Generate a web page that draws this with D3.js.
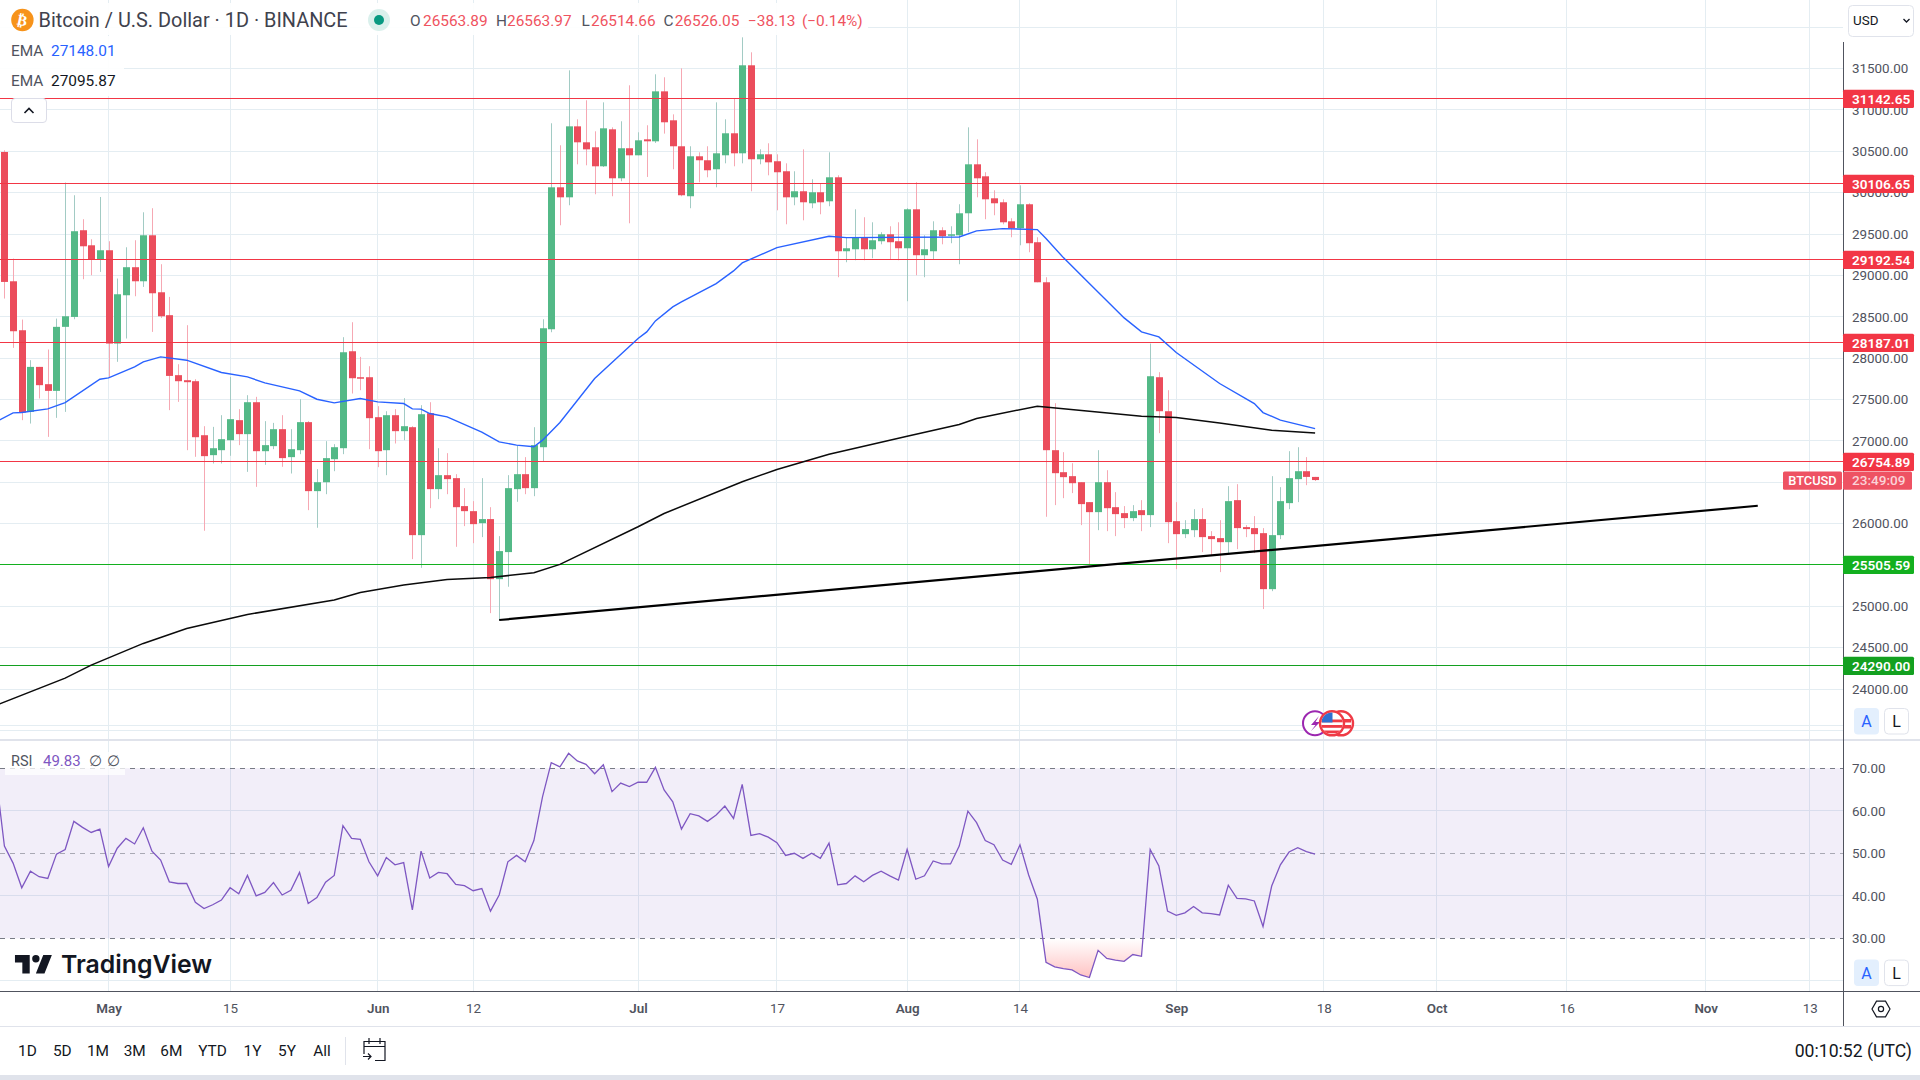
<!DOCTYPE html>
<html>
<head>
<meta charset="utf-8">
<script src="https://cdn.jsdelivr.net/npm/d3@7"></script>
<style>
  html, body { margin: 0; padding: 0; background: #fff; overflow: hidden; }
  svg { display: block; }
  text { font-family: Roboto, "Liberation Sans", sans-serif; }
</style>
</head>
<body>
<svg id="chart" width="1920" height="1080"></svg>
<script>
// Daily candles, first bar 2023-04-19
const firstDay = new Date(Date.UTC(2023, 3, 19));

const opens = [
  30492,28929,28337,27350,27894,27685,27604,28378,28498,29546,
  29364,29191,29304,28176,28760,29099,28929,29485,28796,28519,
  27794,27733,27721,27068,26827,26887,27008,27250,27081,27467,
  26875,26936,27141,26803,26887,27226,26392,26500,26778,26911,
  28083,27769,27769,27286,26887,27310,27117,27165,25860,27334,
  26416,26585,26549,26211,26150,26005,26054,25328,25655,26416,
  26597,26428,26923,28349,30065,29944,30802,30609,30549,30319,
  30766,30174,30537,30452,30645,30621,31225,30875,30561,29957,
  30440,30392,30283,30452,30718,30476,31540,30404,30464,30380,
  30259,29944,30017,29872,30005,29896,30186,29292,29316,29461,
  29316,29413,29497,29413,29328,29799,29244,29292,29546,29485,
  29485,29751,30343,30198,29932,29884,29654,29570,29860,29401,
  28917,26887,26621,26573,26500,26259,26138,26500,26198,26126,
  26066,26162,26102,27769,27358,26029,25872,25920,26054,25848,
  25824,25775,26283,25957,25945,25884,25207,25860,26247,26537,
  26633,26563.89
];
const highs = [
  30512,29203,28466,27975,27894,28104,28478,30122,29969,29679,
  29437,29948,29413,28962,29340,29425,29763,29812,29135,28740,
  27926,28398,27745,27177,27169,27310,27773,27383,27552,27532,
  27238,27217,27310,27141,27503,27238,26658,26996,26960,28253,
  28434,28015,27902,27419,27358,27383,27516,27177,27431,27467,
  26911,26851,26597,26428,26271,26549,26198,25848,26585,26948,
  26803,27165,28470,30839,30573,31479,30887,31117,30742,31092,
  30790,30863,31298,30730,30815,31431,31395,30947,31503,30561,
  30488,30561,31092,30887,31137,31878,31697,30524,30597,30464,
  30355,30259,30524,30162,30114,30488,30210,29461,29799,29703,
  29642,29522,29594,29642,29812,30126,29485,29654,29582,29594,
  29860,30790,30645,30247,30029,29920,29691,30089,29872,29461,
  28978,27455,26863,26730,26500,26259,26887,26645,26380,26211,
  26223,26283,28176,27830,27612,26259,26041,26174,26186,25908,
  26041,26452,26476,25981,26090,25945,26573,26440,26875,26923,
  26803,26563.97
];
const lows = [
  28720,28124,27250,27209,27512,27048,27278,27350,28470,28954,
  29002,29042,27773,27955,28237,28748,28861,28317,28486,27371,
  27471,26887,26807,25913,26726,26726,26819,26948,26625,26444,
  26710,26899,26686,26605,26839,26162,25949,26355,26633,26839,
  27572,27612,26899,26682,26585,26968,27008,25570,25465,26186,
  26295,26355,25719,25969,25763,25836,24917,24833,25236,26263,
  26355,26331,26754,28313,29606,29848,30343,30331,29981,30311,
  29957,30138,29630,30452,30190,30601,30714,30283,29957,29812,
  30126,30186,30065,30355,30319,30355,30017,30343,30210,29787,
  29618,29848,29666,29812,29739,29836,28978,29159,29183,29183,
  29207,29376,29191,29183,28688,29002,28978,29191,29376,29389,
  29135,29522,29944,29679,29727,29618,29461,29364,29280,28917,
  26082,26223,26307,26368,25981,25506,25920,25908,25848,25945,
  26029,25908,25957,27093,25763,25449,25824,25836,25655,25618,
  25413,25643,25691,25836,25643,24966,25183,25812,26174,26259,
  26464,26514.66
];
const closes = [
  28921,28325,27342,27894,27673,27604,28378,28506,29534,29352,
  29191,29304,28176,28772,29099,28929,29485,28784,28506,27785,
  27721,27709,27044,26815,26911,27020,27262,27081,27467,26875,
  26948,27141,26791,26899,27226,26392,26500,26791,26923,28071,
  27757,27757,27274,26875,27310,27117,27177,25860,27322,26416,
  26585,26537,26198,26150,25993,26054,25328,25667,26428,26597,
  26428,26948,28361,30065,29944,30802,30609,30524,30319,30778,
  30174,30537,30452,30633,30621,31225,30851,30561,29969,30440,
  30392,30271,30476,30718,30476,31540,30404,30464,30367,30247,
  29944,30017,29884,30005,29884,30186,29292,29328,29461,29316,
  29425,29497,29401,29328,29799,29244,29316,29546,29473,29497,
  29751,30343,30174,29920,29872,29642,29570,29860,29389,28917,
  26887,26609,26561,26488,26235,26138,26500,26186,26114,26066,
  26150,26102,27781,27358,26017,25872,25933,26054,25836,25812,
  25775,26271,25945,25933,25872,25207,25860,26271,26549,26633,
  26564,26526.05
];

// EMA lines, read at their visible bends (bar number, value)
const emaFastBars = [-1,1,2,5,7,11,12,15,16,18,21,25,28,30,34,36,38,41,43,46,47,48,49,51,55,57,59,61,62,64,68,73,74,75,77,78,82,84,85,89,95,97,110,112,115,119,120,122,125,129,131,133,135,140,144,145,147,151];
const emaFastValues = [27229,27338,27342,27387,27463,27745,27761,27894,27955,28015,27975,27826,27773,27701,27604,27503,27459,27512,27471,27451,27387,27383,27330,27290,27105,26988,26948,26928,27008,27222,27753,28237,28317,28450,28619,28680,28901,29054,29151,29336,29473,29457,29465,29538,29566,29554,29445,29215,28901,28486,28317,28257,28067,27693,27451,27342,27250,27148.01];
const emaSlowBars = [-1,7,10,16,21,28,38,41,46,51,56,61,64,73,76,85,89,95,104,110,112,119,125,131,135,140,146,151];
const emaSlowValues = [23802,24132,24289,24551,24732,24901,25075,25167,25256,25324,25348,25405,25506,25961,26122,26505,26654,26839,27056,27197,27270,27419,27358,27298,27282,27217,27129,27095.87];

// RSI per bar, first value is bar -1 (just off the left edge)
const rsiValues = [
  68.7,51.7,47.7,41.9,45.8,44.5,44.1,49.8,50.9,57.5,56.1,54.9,55.7,46.9,51.2,53.5,52.2,56.0,50.5,48.4,
  43.3,42.9,42.9,38.5,37.0,37.9,39.0,41.9,40.5,44.8,40.0,40.8,43.1,40.2,41.3,45.5,38.2,39.6,43.2,44.8,
  56.5,53.5,53.3,48.0,44.7,49.0,47.3,47.8,36.7,50.5,44.2,45.5,45.2,42.7,42.4,41.2,41.7,36.4,40.2,48.0,
  49.5,48.0,53.0,63.3,71.3,70.3,73.5,71.7,70.9,68.7,70.8,64.5,66.5,65.7,66.7,66.7,70.2,64.9,62.1,55.7,
  59.3,58.8,57.5,59.0,61.1,58.2,66.2,54.2,54.6,53.8,52.5,49.5,50.0,48.8,50.0,48.8,52.4,42.6,42.9,44.7,
  43.3,44.8,45.8,44.7,43.7,50.9,43.9,44.7,48.2,47.5,47.5,51.7,59.9,57.2,53.0,52.0,48.4,47.4,52.0,44.9,
  39.2,24.4,23.3,22.9,22.6,21.4,20.8,27.2,25.3,24.9,24.6,26.2,25.8,50.9,47.0,36.4,35.4,36.0,37.5,36.0,
  35.8,35.5,42.5,39.4,39.3,38.8,32.8,42.3,47.3,50.3,51.3,50.4,49.83
];

const trendDates = ['2023-06-15', '2023-11-07'];
const trendValues = [24834, 26215];

const priceTicks = [31500,31000,30500,30000,29500,29000,28500,28000,27500,27000,26500,26000,25500,25000,24500,24000];
const priceGrid = [32000,31500,31000,30500,30000,29500,29000,28500,28000,27500,27000,26500,26000,25500,25000,24500,24000,23500];
const rsiTicks = [70,60,50,40,30];
const rsiGrid = [80,60,40,20];

const levelValues = [31142.65,30106.65,29192.54,28187.01,26754.89,25505.59,24290.00];
const levelColors = ['#f23645','#f23645','#f23645','#f23645','#f23645','#13b01f','#13a020'];

const timeTickDates = ['2023-05-01','2023-05-15','2023-06-01','2023-06-12','2023-07-01','2023-07-17','2023-08-01','2023-08-14','2023-09-01','2023-09-18','2023-10-01','2023-10-16','2023-11-01','2023-11-13'];
const timeTickLabels = ['May','15','Jun','12','Jul','17','Aug','14','Sep','18','Oct','16','Nov','13'];

const rangeLabels = ['1D','5D','1M','3M','6M','YTD','1Y','5Y','All'];
const rangeCenters = [27.4,62.3,98,134.7,171.3,212.5,252.5,287,322];

const paneRight = 1843, paneBottom = 740, timeTop = 991;
const upColor = '#53b987', downColor = '#eb4d5c', upWick = '#a2cbc4', downWick = '#f6a8b3';
const gridColor = '#e4edf2', axisColor = '#50535e', textColor = '#50535e';

const dayOf = i => d3.utcDay.offset(firstDay, i);
const x = d3.scaleUtc().domain([firstDay, dayOf(151)]).range([4.4, 1315.1]);
const y = d3.scaleLinear().domain([24000, 31500]).range([689, 68.6]);
const rsiY = d3.scaleLinear().domain([30, 70]).range([938.4, 768.2]);

const svg = d3.select('#chart');
const defs = svg.append('defs');
defs.append('clipPath').attr('id', 'pane').append('rect').attr('width', paneRight).attr('height', paneBottom);
defs.append('clipPath').attr('id', 'below30').append('rect').attr('y', rsiY(30)).attr('width', paneRight).attr('height', 60);
defs.append('clipPath').attr('id', 'above70').append('rect').attr('y', paneBottom).attr('width', paneRight).attr('height', rsiY(70) - paneBottom);
const lowGrad = defs.append('linearGradient').attr('id', 'lowFill').attr('gradientUnits', 'userSpaceOnUse')
  .attr('x1', 0).attr('x2', 0).attr('y1', rsiY(30)).attr('y2', rsiY(20));
lowGrad.append('stop').attr('offset', 0).attr('stop-color', '#ff5252').attr('stop-opacity', 0);
lowGrad.append('stop').attr('offset', 1).attr('stop-color', '#ff5252').attr('stop-opacity', 0.38);
const highGrad = defs.append('linearGradient').attr('id', 'highFill').attr('gradientUnits', 'userSpaceOnUse')
  .attr('x1', 0).attr('x2', 0).attr('y1', rsiY(80)).attr('y2', rsiY(70));
highGrad.append('stop').attr('offset', 0).attr('stop-color', '#4caf50').attr('stop-opacity', 0.25);
highGrad.append('stop').attr('offset', 1).attr('stop-color', '#4caf50').attr('stop-opacity', 0);

// grid
const grid = svg.append('g').attr('shape-rendering', 'crispEdges');
grid.selectAll('line.v').data(timeTickDates).enter().append('line')
  .attr('x1', d => x(new Date(d))).attr('x2', d => x(new Date(d)))
  .attr('y1', 0).attr('y2', timeTop).attr('stroke', gridColor);
grid.selectAll('line.h').data(priceGrid).enter().append('line')
  .attr('x1', 0).attr('x2', paneRight).attr('y1', d => y(d)).attr('y2', d => y(d)).attr('stroke', gridColor);

// rsi band goes first so the grid shows through it
svg.append('rect').attr('x', 0).attr('y', rsiY(70)).attr('width', paneRight)
  .attr('height', rsiY(30) - rsiY(70)).attr('fill', '#7e57c2').attr('fill-opacity', 0.1);
grid.selectAll('line.r').data(rsiGrid).enter().append('line')
  .attr('x1', 0).attr('x2', paneRight).attr('y1', d => rsiY(d)).attr('y2', d => rsiY(d)).attr('stroke', gridColor);

// candles
const candleIdx = d3.range(closes.length);
const price = svg.append('g').attr('clip-path', 'url(#pane)');
price.selectAll('line.wick').data(candleIdx).enter().append('line')
  .attr('x1', i => Math.round(x(dayOf(i))) + 0.5).attr('x2', i => Math.round(x(dayOf(i))) + 0.5)
  .attr('y1', i => y(highs[i])).attr('y2', i => y(lows[i]))
  .attr('stroke', i => closes[i] >= opens[i] ? upWick : downWick);
price.selectAll('rect.body').data(candleIdx).enter().append('rect')
  .attr('x', i => Math.round(x(dayOf(i))) - 3).attr('width', 7)
  .attr('y', i => y(Math.max(opens[i], closes[i])))
  .attr('height', i => Math.max(1.5, Math.abs(y(opens[i]) - y(closes[i]))))
  .attr('fill', i => closes[i] >= opens[i] ? upColor : downColor);

// horizontal levels
const levelY = v => Math.floor(y(v)) + 0.5;
price.selectAll('line.level').data(levelValues).enter().append('line')
  .attr('x1', 0).attr('x2', paneRight)
  .attr('y1', d => levelY(d)).attr('y2', d => levelY(d))
  .attr('stroke', (d, i) => levelColors[i]);

// ema lines and trend line
const lineOf = (bars, vals) => d3.line().x((d, i) => x(dayOf(bars[i]))).y((d, i) => y(vals[i]))(vals);
price.append('path').attr('d', lineOf(emaFastBars, emaFastValues)).attr('fill', 'none').attr('stroke', '#2962ff').attr('stroke-width', 1.4);
price.append('path').attr('d', lineOf(emaSlowBars, emaSlowValues)).attr('fill', 'none').attr('stroke', '#0b0b0b').attr('stroke-width', 1.5);
price.append('path')
  .attr('d', d3.line().x(d => x(new Date(d))).y((d, i) => y(trendValues[i]))(trendDates))
  .attr('fill', 'none').attr('stroke', '#000').attr('stroke-width', 2.2);

// rsi
const rsiX = (d, i) => x(dayOf(i - 1));
svg.append('path').attr('clip-path', 'url(#below30)').attr('fill', 'url(#lowFill)')
  .attr('d', d3.area().x(rsiX).y0(rsiY(30)).y1(d => rsiY(d))(rsiValues));
svg.append('path').attr('clip-path', 'url(#above70)').attr('fill', 'url(#highFill)')
  .attr('d', d3.area().x(rsiX).y0(rsiY(70)).y1(d => rsiY(d))(rsiValues));
[70, 50, 30].forEach(v => {
  svg.append('line').attr('x1', 0).attr('x2', paneRight).attr('y1', rsiY(v)).attr('y2', rsiY(v))
    .attr('stroke', '#787b86').attr('stroke-dasharray', '5 5').attr('stroke-opacity', v === 50 ? 0.6 : 1)
    .attr('shape-rendering', 'crispEdges');
});
svg.append('path').attr('d', d3.line().x(rsiX).y(d => rsiY(d))(rsiValues))
  .attr('fill', 'none').attr('stroke', '#7e57c2').attr('stroke-width', 1.3);

// frame
const frame = svg.append('g').attr('shape-rendering', 'crispEdges');
frame.append('line').attr('x1', 0).attr('x2', 1920).attr('y1', paneBottom).attr('y2', paneBottom).attr('stroke', '#e0e3eb').attr('stroke-width', 1.5);
frame.append('line').attr('x1', 0).attr('x2', 1920).attr('y1', timeTop).attr('y2', timeTop).attr('stroke', axisColor);
frame.append('line').attr('x1', paneRight).attr('x2', paneRight).attr('y1', 42).attr('y2', 1026).attr('stroke', axisColor);
frame.append('line').attr('x1', 0).attr('x2', 1920).attr('y1', 1026.5).attr('y2', 1026.5).attr('stroke', '#e0e3eb');
frame.append('rect').attr('x', 0).attr('y', 1075).attr('width', 1920).attr('height', 5).attr('fill', '#e0e3eb');

// axes
const styleAxis = g => {
  g.select('.domain').remove();
  g.selectAll('text').attr('fill', textColor).style('font-size', '13.4px');
};
svg.append('g').attr('transform', `translate(${paneRight},0)`)
  .call(d3.axisRight(y).tickValues(priceTicks).tickSize(0).tickPadding(9).tickFormat(d3.format('.2f')))
  .call(styleAxis);
svg.append('g').attr('transform', `translate(${paneRight},0)`)
  .call(d3.axisRight(rsiY).tickValues(rsiTicks).tickSize(0).tickPadding(9).tickFormat(d3.format('.2f')))
  .call(styleAxis);
const timeAxis = svg.append('g').attr('transform', `translate(0,${timeTop})`)
  .call(d3.axisBottom(x).tickValues(timeTickDates.map(d => new Date(d))).tickSize(0).tickPadding(12)
    .tickFormat((d, i) => timeTickLabels[i]))
  .call(styleAxis);
timeAxis.selectAll('text').attr('font-weight', (d, i) => /[a-z]/.test(timeTickLabels[i]) ? 600 : 400);

// price badges on the axis
const badges = svg.append('g');
levelValues.forEach((v, i) => {
  const cy = levelY(v) + 0.4;
  badges.append('rect').attr('x', paneRight).attr('y', cy - 9.2).attr('width', 71).attr('height', 18.4)
    .attr('rx', 1.5).attr('fill', levelColors[i]);
  badges.append('text').attr('x', 1852).attr('y', cy + 4.8).attr('fill', '#fff')
    .attr('font-size', 13.6).attr('font-weight', 600).text(d3.format('.2f')(v));
});
badges.append('rect').attr('x', 1783).attr('y', 471.4).attr('width', 59).attr('height', 18.4).attr('rx', 1.5).attr('fill', '#ee5263');
badges.append('text').attr('x', 1812.5).attr('y', 485.3).attr('text-anchor', 'middle').attr('fill', '#fff').attr('font-size', 12.8).attr('font-weight', 500).text('BTCUSD');
badges.append('rect').attr('x', paneRight).attr('y', 471.4).attr('width', 69).attr('height', 18.4).attr('rx', 1.5).attr('fill', '#ee5263');
badges.append('text').attr('x', 1852).attr('y', 485.3).attr('fill', '#fbd3d8').attr('font-size', 13.6).attr('font-weight', 500).text('23:49:09');

// legend rows
const legend = svg.append('g');
legend.append('rect').attr('x', 0).attr('y', 3).attr('width', 868).attr('height', 32).attr('fill', '#fff').attr('fill-opacity', 0.92);
legend.append('rect').attr('x', 0).attr('y', 36).attr('width', 124).attr('height', 60).attr('fill', '#fff').attr('fill-opacity', 0.92);
legend.append('circle').attr('cx', 22.4).attr('cy', 20).attr('r', 11.2).attr('fill', '#f7931a');
legend.append('text').attr('x', 22.4).attr('y', 25.5).attr('text-anchor', 'middle').attr('fill', '#fff')
  .attr('font-size', 15).attr('font-weight', 700).style('font-family', '"DejaVu Sans"')
  .attr('transform', 'rotate(12 22.4 20)').text('₿');
legend.append('text').attr('x', 38.5).attr('y', 27).attr('fill', '#3f424d').attr('font-size', 19.9).text('Bitcoin / U.S. Dollar · 1D · BINANCE');
legend.append('circle').attr('cx', 379).attr('cy', 20).attr('r', 11).attr('fill', '#089981').attr('fill-opacity', 0.15);
legend.append('circle').attr('cx', 379).attr('cy', 20).attr('r', 5).attr('fill', '#089981');

const ohlcLabels = ['O','H','L','C'];
const ohlcLabelX = [410,496,581.5,663.5];
const ohlcValues = ['26563.89','26563.97','26514.66','26526.05'];
const ohlcValueX = [423,507,591,674.7];
ohlcLabels.forEach((t, i) => {
  legend.append('text').attr('x', ohlcLabelX[i]).attr('y', 26).attr('fill', textColor).attr('font-size', 15.4).text(t);
  legend.append('text').attr('x', ohlcValueX[i]).attr('y', 26).attr('fill', '#ef5360').attr('font-size', 15.4).text(ohlcValues[i]);
});
legend.append('text').attr('x', 748).attr('y', 26).attr('fill', '#ef5360').attr('font-size', 15.4).text('−38.13');
legend.append('text').attr('x', 802).attr('y', 26).attr('fill', '#ef5360').attr('font-size', 15.4).text('(−0.14%)');

legend.append('text').attr('x', 11).attr('y', 56).attr('fill', textColor).attr('font-size', 15.4).text('EMA');
legend.append('text').attr('x', 51).attr('y', 56).attr('fill', '#2962ff').attr('font-size', 15.4).text('27148.01');
legend.append('text').attr('x', 11).attr('y', 86).attr('fill', textColor).attr('font-size', 15.4).text('EMA');
legend.append('text').attr('x', 51).attr('y', 86).attr('fill', '#131722').attr('font-size', 15.4).text('27095.87');

legend.append('rect').attr('x', 11.5).attr('y', 98.5).attr('width', 35).attr('height', 24).attr('rx', 3.5)
  .attr('fill', '#fff').attr('stroke', '#dcdde8');
legend.append('path').attr('d', 'M24.5 113 L29 108.5 L33.5 113').attr('fill', 'none').attr('stroke', '#131722').attr('stroke-width', 1.6);

// rsi legend
legend.append('rect').attr('x', 5).attr('y', 752).attr('width', 120).attr('height', 23).attr('fill', '#fff').attr('fill-opacity', 0.75);
legend.append('text').attr('x', 11).attr('y', 766).attr('fill', textColor).attr('font-size', 14.5).text('RSI');
legend.append('text').attr('x', 43).attr('y', 766).attr('fill', '#7e57c2').attr('font-size', 15).text('49.83');
legend.append('text').attr('x', 89).attr('y', 766).attr('fill', textColor).attr('font-size', 14.5).text('∅');
legend.append('text').attr('x', 107).attr('y', 766).attr('fill', textColor).attr('font-size', 14.5).text('∅');

// watermark
const logo = svg.append('g').attr('transform', 'translate(12.5,947.7) scale(1.23)');
logo.append('path').attr('fill', '#131722').attr('d', 'M14 6H2v6h6v9h6V6Zm12 15h-7l6-15h7l-6 15Zm-7-9a3 3 0 1 0 0-6 3 3 0 0 0 0 6Z');
svg.append('text').attr('x', 61).attr('y', 972.5).attr('fill', '#131722').attr('font-size', 24.8).attr('font-weight', 600)
  .style('font-family', 'Inter, Roboto, sans-serif').text('TradingView');

// currency button
svg.append('rect').attr('x', 1848.5).attr('y', 5.5).attr('width', 65).attr('height', 31).attr('rx', 4)
  .attr('fill', '#fff').attr('stroke', '#e0e3eb');
svg.append('text').attr('x', 1853).attr('y', 25).attr('fill', '#131722').attr('font-size', 13.4).text('USD');
svg.append('path').attr('d', 'M1903.5 19 L1906.5 22 L1909.5 19').attr('fill', 'none').attr('stroke', '#131722').attr('stroke-width', 1.3);

// scale mode buttons
[708, 959.6].forEach(top => {
  svg.append('rect').attr('x', 1854).attr('y', top).attr('width', 25).attr('height', 26.5).attr('rx', 4).attr('fill', '#e3effd');
  svg.append('text').attr('x', 1866.5).attr('y', top + 19).attr('text-anchor', 'middle').attr('fill', '#2962ff').attr('font-size', 16).text('A');
  svg.append('rect').attr('x', 1884.5).attr('y', top + 0.5).attr('width', 24).attr('height', 25.5).attr('rx', 4).attr('fill', '#fff').attr('stroke', '#e0e3eb');
  svg.append('text').attr('x', 1896.5).attr('y', top + 19).attr('text-anchor', 'middle').attr('fill', '#131722').attr('font-size', 16).text('L');
});

// settings gear
svg.append('path').attr('d', d3.line()(d3.range(6).map(k => [1881 + 9 * Math.cos(k * Math.PI / 3), 1009 + 9 * Math.sin(k * Math.PI / 3)])) + 'Z')
  .attr('fill', 'none').attr('stroke', '#131722').attr('stroke-width', 1.2);
svg.append('circle').attr('cx', 1881).attr('cy', 1009).attr('r', 2.6).attr('fill', 'none').attr('stroke', '#131722').attr('stroke-width', 1.2);

// event markers
const events = svg.append('g');
events.append('circle').attr('cx', 1315).attr('cy', 723.3).attr('r', 12).attr('fill', '#fff').attr('stroke', '#9c27b0').attr('stroke-width', 2);
events.append('path').attr('d', 'M1319 716 L1311 725 L1315.5 725 L1311 731 L1320 722 L1315.5 722 Z').attr('fill', '#9c27b0');
events.append('circle').attr('cx', 1341).attr('cy', 723.3).attr('r', 12).attr('fill', '#fff').attr('stroke', '#ef3b46').attr('stroke-width', 2.4);
events.append('rect').attr('x', 1340).attr('y', 719).attr('width', 11).attr('height', 3.5).attr('fill', '#ef3b46');
events.append('rect').attr('x', 1340).attr('y', 725).attr('width', 11).attr('height', 3.5).attr('fill', '#ef3b46');
events.append('circle').attr('cx', 1332).attr('cy', 723.3).attr('r', 12).attr('fill', '#fff').attr('stroke', '#ef3b46').attr('stroke-width', 2.4);
defs.append('clipPath').attr('id', 'flag').append('circle').attr('cx', 1332).attr('cy', 723.3).attr('r', 10.8);
const flag = events.append('g').attr('clip-path', 'url(#flag)');
[719.5, 725, 730.5].forEach(fy => flag.append('rect').attr('x', 1320).attr('y', fy).attr('width', 24).attr('height', 2.8).attr('fill', '#ef3b46'));
flag.append('rect').attr('x', 1322).attr('y', 712).attr('width', 10.5).attr('height', 10.5).attr('fill', '#2f6fd0');

// bottom toolbar
svg.selectAll('text.range').data(rangeLabels).enter().append('text')
  .attr('x', (d, i) => rangeCenters[i]).attr('y', 1056).attr('text-anchor', 'middle')
  .attr('fill', '#131722').attr('font-size', 15.4).text(d => d);
svg.append('line').attr('x1', 345.5).attr('x2', 345.5).attr('y1', 1037).attr('y2', 1065).attr('stroke', '#e0e3eb');
const cal = svg.append('g').attr('fill', 'none').attr('stroke', '#131722').attr('stroke-width', 1.2);
cal.append('path').attr('d', 'M364 1054 V1041.5 H385 V1060.5 H375 M364 1046.5 H385 M369 1038 V1044 M380 1038 V1044 M363 1056.5 H371 M368 1053.5 L371 1056.5 L368 1059.5');
svg.append('text').attr('x', 1912).attr('y', 1056.5).attr('text-anchor', 'end').attr('fill', '#131722').attr('font-size', 17.6).text('00:10:52 (UTC)');
</script>
</body>
</html>
